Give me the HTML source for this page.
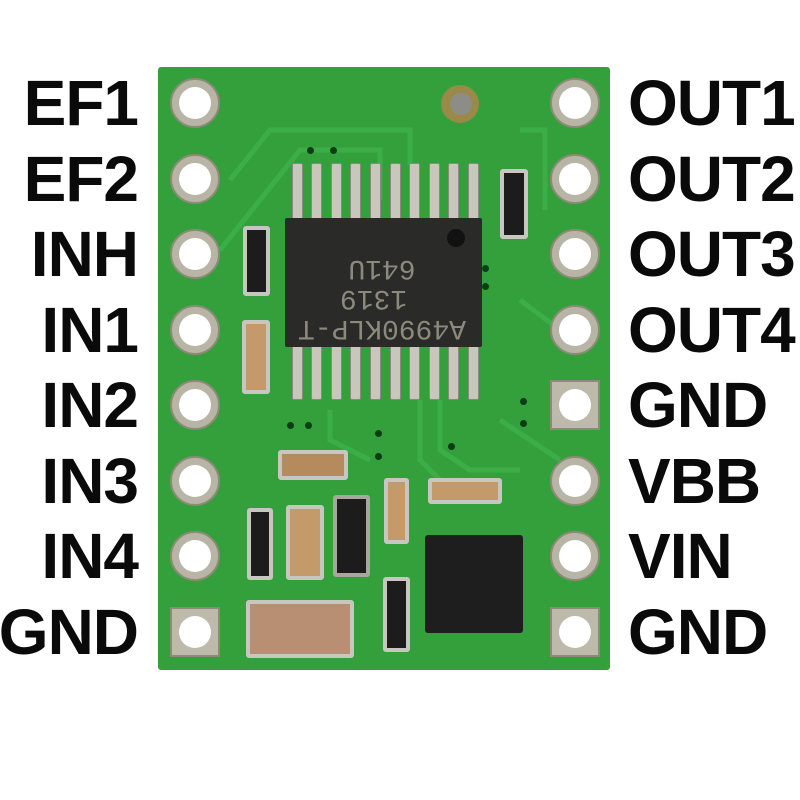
<!DOCTYPE html>
<html><head><meta charset="utf-8"><style>
body{margin:0;width:800px;height:800px;background:#fff;position:relative;overflow:hidden;font-family:"Liberation Sans",sans-serif}
div{position:absolute;box-sizing:border-box}
.lab{font-weight:bold;font-size:64px;line-height:64px;height:64px;color:#0a0a0a;letter-spacing:-1px}
.l{right:662px;text-align:right}
.r{left:628px}
.pad{width:50px;height:50px;border-radius:50%;background:#b9b5a6;border:2px solid #8e8a78}
.pad::after{content:"";position:absolute;left:7px;top:7px;width:32px;height:32px;border-radius:50%;background:#fff}
.sq{border-radius:0;background:#bdb9ab}
.pin{width:11px;background:#c9c6bc;border:1px solid #8b8a82;border-radius:2px}
.cap{background:#c59a6a;border:4px solid #c8c6c0;border-radius:3px}
.res{background:#1c1c1c;border:4px solid #c8c6c0;border-radius:3px}
.via{width:7px;height:7px;border-radius:50%;background:#0d3d14}
</style></head><body>
<div style="left:158px;top:67px;width:452px;height:603px;background:#33a03c;border-radius:3px"></div>
<svg style="position:absolute;left:0;top:0" width="800" height="800"><g fill="none" stroke="#3cae48" stroke-width="5">
<path d="M220 250 L260 200 L300 150 L380 150 L380 200"/><path d="M230 180 L270 130 L410 130 L410 165"/>
<path d="M440 400 L440 450 L470 470 L520 470"/><path d="M520 300 L560 330"/><path d="M330 410 L330 440 L370 460"/>
<path d="M420 400 L420 460 L440 480"/><path d="M500 420 L530 440 L560 460"/><path d="M520 130 L545 130 L545 210"/></g></svg>
<div class="pad" style="left:170px;top:78px"></div>
<div class="pad" style="left:170px;top:154px"></div>
<div class="pad" style="left:170px;top:229px"></div>
<div class="pad" style="left:170px;top:305px"></div>
<div class="pad" style="left:170px;top:380px"></div>
<div class="pad" style="left:170px;top:456px"></div>
<div class="pad" style="left:170px;top:531px"></div>
<div class="pad sq" style="left:170px;top:607px"></div>
<div class="pad" style="left:550px;top:78px"></div>
<div class="pad" style="left:550px;top:154px"></div>
<div class="pad" style="left:550px;top:229px"></div>
<div class="pad" style="left:550px;top:305px"></div>
<div class="pad sq" style="left:550px;top:380px"></div>
<div class="pad" style="left:550px;top:456px"></div>
<div class="pad" style="left:550px;top:531px"></div>
<div class="pad sq" style="left:550px;top:607px"></div>
<div style="left:441px;top:85px;width:38px;height:38px;border-radius:50%;background:#9a8a4a"></div>
<div style="left:450px;top:93px;width:22px;height:22px;border-radius:50%;background:#8d8d88"></div>
<div class="pin" style="left:292px;top:163px;height:58px"></div><div class="pin" style="left:311px;top:163px;height:58px"></div><div class="pin" style="left:331px;top:163px;height:58px"></div><div class="pin" style="left:350px;top:163px;height:58px"></div><div class="pin" style="left:370px;top:163px;height:58px"></div><div class="pin" style="left:390px;top:163px;height:58px"></div><div class="pin" style="left:409px;top:163px;height:58px"></div><div class="pin" style="left:429px;top:163px;height:58px"></div><div class="pin" style="left:448px;top:163px;height:58px"></div><div class="pin" style="left:468px;top:163px;height:58px"></div>
<div class="pin" style="left:292px;top:344px;height:56px"></div><div class="pin" style="left:311px;top:344px;height:56px"></div><div class="pin" style="left:331px;top:344px;height:56px"></div><div class="pin" style="left:350px;top:344px;height:56px"></div><div class="pin" style="left:370px;top:344px;height:56px"></div><div class="pin" style="left:390px;top:344px;height:56px"></div><div class="pin" style="left:409px;top:344px;height:56px"></div><div class="pin" style="left:429px;top:344px;height:56px"></div><div class="pin" style="left:448px;top:344px;height:56px"></div><div class="pin" style="left:468px;top:344px;height:56px"></div>
<div style="left:285px;top:218px;width:197px;height:129px;background:#2a2a28;border-radius:2px"></div>
<div style="left:447px;top:229px;width:18px;height:18px;border-radius:50%;background:#121212"></div>
<div style="left:292px;top:242px;width:180px;height:100px;transform:rotate(180deg);color:#8c8a7c;font-family:'Liberation Mono',monospace;font-size:28px;line-height:30px;text-align:center">A4990KLP-T<br>&nbsp;1319<br>641U</div>
<div class="res" style="left:243px;top:226px;width:27px;height:70px"></div>
<div class="cap" style="left:242px;top:320px;width:28px;height:74px"></div>
<div class="res" style="left:500px;top:169px;width:28px;height:70px"></div>
<div class="cap" style="left:278px;top:450px;width:70px;height:30px;background:#b58a5c"></div>
<div class="cap" style="left:384px;top:478px;width:25px;height:66px"></div>
<div class="cap" style="left:428px;top:478px;width:74px;height:26px"></div>
<div class="res" style="left:247px;top:508px;width:26px;height:72px"></div>
<div class="cap" style="left:286px;top:505px;width:38px;height:75px"></div>
<div class="res" style="left:333px;top:495px;width:37px;height:82px;border-color:#a8a69e"></div>
<div class="cap" style="left:246px;top:600px;width:108px;height:58px;background:#b88f73"></div>
<div class="res" style="left:383px;top:577px;width:27px;height:75px"></div>
<div style="left:425px;top:535px;width:98px;height:98px;background:#1e1e1e;border-radius:3px"></div>
<div class="via" style="left:520px;top:398px"></div><div class="via" style="left:520px;top:420px"></div><div class="via" style="left:287px;top:422px"></div><div class="via" style="left:305px;top:422px"></div><div class="via" style="left:375px;top:430px"></div><div class="via" style="left:375px;top:453px"></div><div class="via" style="left:448px;top:443px"></div><div class="via" style="left:307px;top:147px"></div><div class="via" style="left:330px;top:147px"></div><div class="via" style="left:482px;top:265px"></div><div class="via" style="left:482px;top:283px"></div>
<div class="lab l" style="top:71px">EF1</div>
<div class="lab l" style="top:147px">EF2</div>
<div class="lab l" style="top:222px">INH</div>
<div class="lab l" style="top:298px">IN1</div>
<div class="lab l" style="top:373px">IN2</div>
<div class="lab l" style="top:449px">IN3</div>
<div class="lab l" style="top:524px">IN4</div>
<div class="lab l" style="top:600px">GND</div>
<div class="lab r" style="top:71px">OUT1</div>
<div class="lab r" style="top:147px">OUT2</div>
<div class="lab r" style="top:222px">OUT3</div>
<div class="lab r" style="top:298px">OUT4</div>
<div class="lab r" style="top:373px">GND</div>
<div class="lab r" style="top:449px">VBB</div>
<div class="lab r" style="top:524px">VIN</div>
<div class="lab r" style="top:600px">GND</div>
</body></html>
